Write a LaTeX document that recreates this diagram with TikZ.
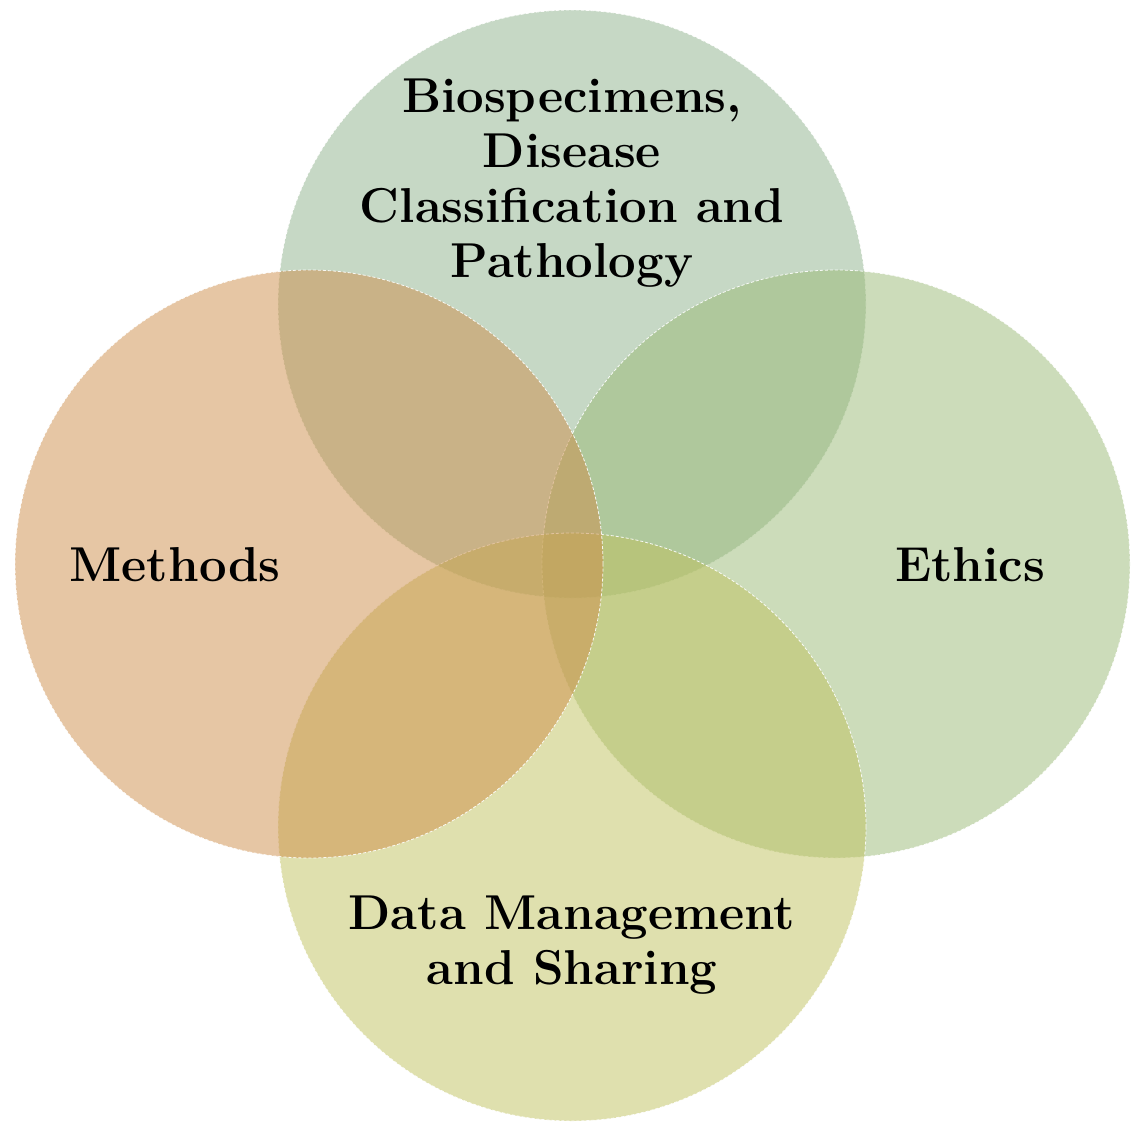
\documentclass[tikz,border=0pt]{standalone}
\begin{document}
\begin{tikzpicture}[x=1pt,y=-1pt,
  venn/.style={circle, minimum size=588pt, inner sep=0pt, fill opacity=0.5,
    draw=white, draw opacity=0.9, line width=0.8pt, dash pattern=on 3pt off 2pt},
  lbl/.style={align=center, font=\fontsize{49}{55}\selectfont\bfseries, text=black}]
\definecolor{ctop}{RGB}{141,177,139}
\definecolor{cright}{RGB}{153,185,117}
\definecolor{cbottom}{RGB}{191,193,93}
\definecolor{cleft}{RGB}{205,141,73}
\useasboundingbox (0,0) rectangle (1133,1122);
\node[venn, fill=ctop] (top) at (572,304) {};
\node[venn, fill=cright] (right) at (836,564) {};
\node[venn, fill=cbottom] (bottom) at (572,827) {};
\node[venn, fill=cleft] (left) at (309,564) {};
\node[lbl] (ttop) at (572,183) {Biospecimens,\\Disease\\Classification and\\Pathology};
\node[lbl] (tleft) at (175,565) {Methods};
\node[lbl] (tright) at (970,565) {Ethics};
\node[lbl] (tbottom) at (572,945) {Data Management\\and Sharing};
\end{tikzpicture}
\end{document}
